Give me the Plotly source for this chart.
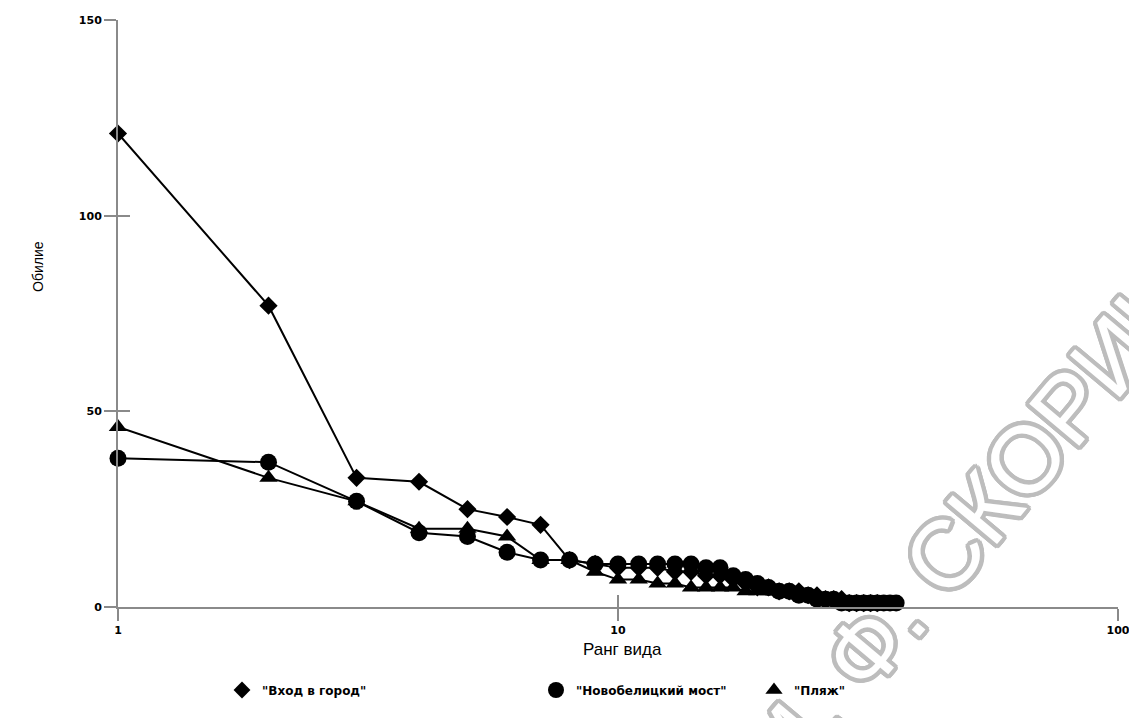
import plotly.graph_objects as go

# ---- data ----
rank_vhod = list(range(1, 34))
vhod = [121, 77, 33, 32, 25, 23, 21, 12, 11, 10, 10, 10, 9, 9, 8, 8, 7, 6, 5, 5,
        4, 4, 4, 3, 3, 2, 2, 2, 1, 1, 1, 1, 1]

rank_most = list(range(1, 37))
most = [38, 37, 27, 19, 18, 14, 12, 12, 11, 11, 11, 11, 11, 11, 10, 10, 8, 7, 6, 5,
        4, 4, 3, 3, 2, 2, 2, 1, 1, 1, 1, 1, 1, 1, 1, 1]

rank_plyazh = list(range(1, 31))
plyazh = [46, 33, 27, 20, 20, 18, 12, 12, 9, 7, 7, 6, 6, 5, 5, 5, 5, 4, 4, 4,
          4, 4, 3, 3, 3, 2, 2, 2, 1, 1]

names = ['"Вход в город"', '"Новобелицкий мост"', '"Пляж"']
x_ticks = [1, 10, 100]
x_ticktext = ["1", "10", "100"]
y_ticks = [0, 50, 100, 150]

# page has an 8px body margin: figure pixel = page pixel - 8
O = 8
W, H = 1137 - O, 718 - O
# plot area in page pixels: x 118..1118, y 20..607
L, T = 118 - O, 20 - O
R = W - (1118 - O)
B = H - (607 - O)
PW, PH = W - L - R, H - T - B

def px_x(p):  # page px -> paper
    return (p - O - L) / PW

def px_y(p):
    return (H - B - (p - O)) / PH

def cx(p):  # page px -> container
    return (p - O) / W

def cy(p):
    return 1 - (p - O) / H

fig = go.Figure()
series = [
    (rank_vhod, vhod, "diamond", 14, "legend"),
    (rank_most, most, "circle", 17, "legend2"),
    (rank_plyazh, plyazh, "triangle-up", 16, "legend3"),
]
for (xs, ys, sym, sz, lg), nm in zip(series, names):
    fig.add_trace(go.Scatter(
        x=xs, y=ys, name=nm, mode="lines+markers",
        line=dict(color="black", width=2),
        marker=dict(symbol=sym, size=sz, color="black"),
        cliponaxis=False, showlegend=False,
    ))
    # legend entry showing the marker only
    fig.add_trace(go.Scatter(
        x=[None], y=[None], name=nm, mode="markers",
        marker=dict(symbol=sym, size=sz - 1, color="black"),
        legend=lg, showlegend=True, hoverinfo="skip",
    ))

axis_col = "#8a8a8a"
tick_font = dict(family="DejaVu Sans", size=11, color="black", weight="bold")

fig.update_layout(
    width=W, height=H,
    margin=dict(l=L, r=R, t=T, b=B, autoexpand=False),
    paper_bgcolor="white", plot_bgcolor="white",
    showlegend=True,
    xaxis=dict(type="log", range=[0, 2], tickvals=x_ticks, ticktext=x_ticktext,
               showline=True, linecolor=axis_col, linewidth=2, showgrid=False,
               zeroline=False, ticks="outside", ticklen=12, tickwidth=2,
               tickcolor=axis_col, tickfont=tick_font, automargin=False),
    yaxis=dict(range=[0, 150], tickvals=y_ticks, showline=True, linecolor=axis_col,
               linewidth=2, showgrid=False, zeroline=False, ticks="outside",
               ticklen=12, tickwidth=2, tickcolor=axis_col, tickfont=tick_font,
               automargin=False),
    xaxis2=dict(type="log", range=[0, 2], overlaying="x", matches="x", anchor="y",
                tickvals=x_ticks, showticklabels=False, showgrid=False,
                zeroline=False, ticks="inside", ticklen=12, tickwidth=2,
                tickcolor=axis_col, showline=False, automargin=False),
    yaxis2=dict(range=[0, 150], overlaying="y", matches="y", anchor="x",
                tickvals=y_ticks[1:], showticklabels=False, showgrid=False,
                zeroline=False, ticks="inside", ticklen=12, tickwidth=2,
                tickcolor=axis_col, showline=False, automargin=False),
)
# invisible trace to make overlay axes render
fig.add_trace(go.Scatter(x=[1], y=[0], xaxis="x2", yaxis="y2", mode="markers",
                         marker=dict(opacity=0), showlegend=False, hoverinfo="skip"))

leg_font = dict(family="DejaVu Sans", size=12, color="black", weight="bold")
leg_common = dict(orientation="h", yanchor="middle", xanchor="left",
                  xref="container", yref="container",
                  bgcolor="rgba(0,0,0,0)", font=leg_font, itemwidth=30)
fig.update_layout(
    legend=dict(x=cx(241 - 19), y=cy(690), **leg_common),
    legend2=dict(x=cx(555 - 19), y=cy(690), **leg_common),
    legend3=dict(x=cx(773 - 19), y=cy(690), **leg_common),
)

fig.add_annotation(text="Ранг вида", xref="paper", yref="paper",
                   x=px_x(622), y=px_y(661), showarrow=False,
                   font=dict(family="Liberation Sans, Arial", size=17, color="black"))
fig.add_annotation(text="Обилие", xref="paper", yref="paper", textangle=-90,
                   x=px_x(28), y=px_y(267), showarrow=False,
                   font=dict(family="Liberation Sans, Arial", size=14, color="black"))

# watermark (outlined grey text)
shadow = ", ".join(f"{dx}px {dy}px 0 #bdbdbd" for dx, dy in
                   [(4, 0), (-4, 0), (0, 4), (0, -4), (3, 3), (-3, -3), (3, -3), (-3, 3),
                    (4, 2), (4, -2), (-4, 2), (-4, -2), (2, 4), (-2, 4), (2, -4), (-2, -4)])
fig.add_annotation(text="ИМ. Ф. СКОРИНЫ", xref="paper", yref="paper",
                   x=px_x(1275), y=px_y(868), showarrow=False, textangle=-50,
                   font=dict(family="Liberation Sans, Arial", size=95, color="white",
                             shadow=shadow))

fig.write_html("out.html")
